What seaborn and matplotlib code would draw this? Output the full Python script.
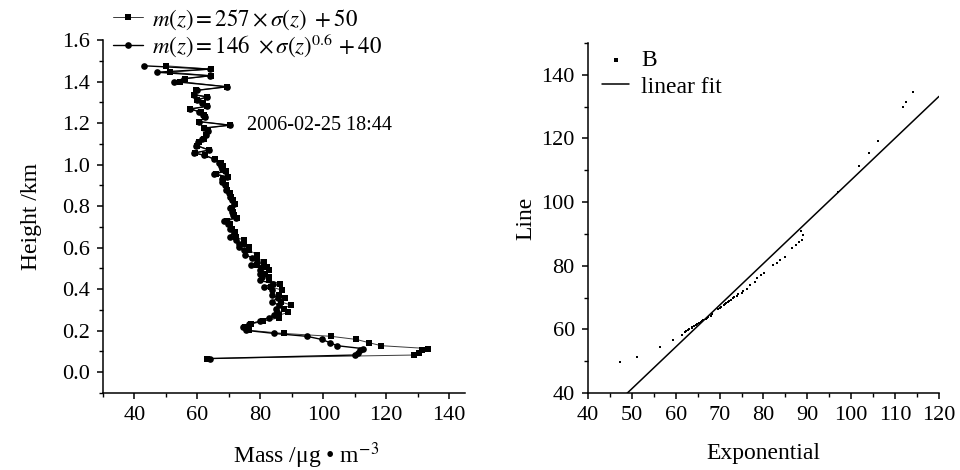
import numpy as np
import pandas as pd
import matplotlib
matplotlib.use("Agg")
import matplotlib.pyplot as plt
from matplotlib.ticker import MultipleLocator, FormatStrFormatter
import seaborn as sns

# ---------------- data ----------------
heights = [0.066, 0.083, 0.095, 0.105, 0.114, 0.128, 0.142, 0.158, 0.173, 0.187,
           0.202, 0.218, 0.232, 0.246, 0.262, 0.275, 0.288, 0.307, 0.324, 0.339,
           0.358, 0.374, 0.395, 0.411, 0.427, 0.443, 0.458, 0.471, 0.492, 0.507,
           0.516, 0.532, 0.551, 0.566, 0.588, 0.604, 0.620, 0.636, 0.652, 0.676,
           0.692, 0.712, 0.728, 0.744, 0.758, 0.773, 0.789, 0.808, 0.829, 0.845,
           0.861, 0.877, 0.901, 0.914, 0.933, 0.941, 0.955, 0.969, 0.981, 0.993,
           1.006, 1.026, 1.045, 1.056, 1.070, 1.092, 1.107, 1.125, 1.142, 1.160,
           1.176, 1.190, 1.207, 1.228, 1.239, 1.254, 1.268, 1.281, 1.296, 1.311,
           1.326, 1.337, 1.358, 1.375, 1.400, 1.414, 1.428, 1.445, 1.460, 1.476]

mass_linear = [63.0, 128.9, 130.3, 131.5, 133.3, 118.4, 114.6, 110.5, 102.5, 87.4,
               76.3, 75.0, 77.0, 80.9, 85.8, 86.0, 88.7, 87.4, 89.7, 86.5,
               87.9, 86.0, 86.9, 83.5, 86.3, 82.6, 82.6, 81.5, 82.6, 82.1,
               79.0, 81.0, 79.0, 79.0, 76.3, 76.3, 74.7, 74.7, 72.1, 72.0,
               71.0, 70.5, 69.5, 72.5, 71.6, 71.3, 71.0, 72.0, 71.3, 70.8,
               70.2, 69.5, 69.0, 68.2, 68.0, 69.6, 65.8, 69.0, 68.0, 68.0,
               67.6, 65.7, 62.3, 59.1, 63.6, 59.9, 60.6, 62.0, 62.6, 63.5,
               62.2, 70.5, 60.6, 62.5, 62.0, 61.0, 57.8, 63.1, 61.8, 60.0,
               63.2, 59.0, 59.7, 69.4, 54.5, 56.2, 64.4, 51.4, 64.3, 50.0]

mass_exponential = [64.0, 110.2, 111.0, 111.6, 112.5, 104.3, 102.2, 99.5, 94.8, 84.4,
                    75.3, 74.5, 76.5, 79.8, 82.6, 84.2, 85.3, 85.1, 85.8, 83.7,
                    85.5, 83.7, 83.7, 81.3, 84.0, 79.8, 80.5, 80.0, 80.0, 80.5,
                    77.1, 79.0, 77.4, 75.2, 74.7, 73.3, 73.3, 72.1, 70.2, 71.5,
                    70.5, 69.7, 68.3, 72.1, 71.2, 71.0, 70.5, 71.5, 71.0, 70.5,
                    69.9, 69.1, 68.7, 67.8, 67.8, 69.4, 65.2, 68.9, 67.8, 67.5,
                    66.9, 65.4, 62.2, 58.9, 63.8, 59.6, 60.3, 61.5, 62.8, 63.5,
                    62.1, 70.3, 60.6, 62.3, 61.8, 60.6, 57.8, 63.1, 61.5, 59.8,
                    63.1, 58.8, 60.0, 69.4, 52.5, 55.7, 64.0, 47.0, 64.0, 43.0]

b_exponential = [47.3, 51.1, 56.4, 59.3, 61.5,
                 62.1, 62.4, 62.9, 63.1, 63.6, 63.8, 64.2, 64.6, 64.9, 65.2, 65.7, 66.0,
                 66.3, 66.8, 67.1, 67.4, 68.0, 68.3,
                 69.6, 70.0, 70.3, 70.9, 71.2, 71.4, 71.9, 72.2, 72.7, 73.0, 73.3, 74.0,
                 74.3, 75.0, 75.3, 76.3,
                 77.0, 78.0, 78.6, 79.4, 80.1,
                 82.2, 83.0, 83.7, 84.9, 86.4, 87.5, 88.0, 88.5, 88.7, 89.0,
                 96.9, 101.7, 104.0, 106.0, 111.7, 112.4, 114.0]
b_line = [49.8, 51.4, 54.5, 56.6, 58.2,
          59.2, 59.5, 59.8, 60.1, 60.4, 60.7, 61.1, 61.4, 61.7, 62.0, 62.3, 62.7,
          62.9, 63.3, 63.6, 64.0, 64.3, 64.7,
          66.4, 66.8, 67.1, 67.5, 67.9, 68.2, 68.6, 69.0, 69.3, 69.7, 70.1, 70.5,
          71.0, 71.5, 72.0, 72.8,
          74.0, 75.0, 76.0, 77.0, 77.8,
          80.1, 80.9, 81.7, 82.7, 85.4, 86.4, 87.5, 90.8, 88.0, 89.5,
          103.1, 111.3, 115.5, 119.3, 129.8, 131.5, 134.5]

label_linear = r"$m(z) = 257\times\sigma(z)\ +50$"
label_exponential = r"$m(z) = 146\ \times\sigma(z)^{0.6}\,+40$"
annotation_text = "2006-02-25 18:44"

# ---------------- style ----------------
sns.set_theme(style="ticks")
plt.rcParams["font.family"] = ["Liberation Serif", "DejaVu Serif"]
plt.rcParams["mathtext.fontset"] = "stix"
plt.rcParams.update({
    "axes.linewidth": 1.1,
    "xtick.major.width": 1.1, "ytick.major.width": 1.1,
    "xtick.minor.width": 1.0, "ytick.minor.width": 1.0,
    "xtick.major.size": 4.5, "ytick.major.size": 4.5,
    "xtick.minor.size": 2.8, "ytick.minor.size": 2.8,
    "xtick.direction": "out", "ytick.direction": "out",
    "axes.edgecolor": "black",
    "xtick.color": "black", "ytick.color": "black",
    "text.color": "black", "axes.labelcolor": "black",
})
TICK_FS = 16
LABEL_FS = 17
LEG_FS = 17

fig = plt.figure(figsize=(9.6, 4.7), dpi=100)
ax1 = fig.add_axes([0.1073, 0.1638, 0.377, 0.751])
ax2 = fig.add_axes([0.6125, 0.1638, 0.3656, 0.745])

# ---------------- left panel ----------------
prof = pd.DataFrame({"h": heights, "lin": mass_linear, "exp": mass_exponential})
sns.lineplot(data=prof, x="lin", y="h", sort=False, estimator=None, ax=ax1,
             color="#3a3a3a", linewidth=0.7, marker="s", markersize=3.8,
             markeredgewidth=0, markerfacecolor="black", label=label_linear)
sns.lineplot(data=prof, x="exp", y="h", sort=False, estimator=None, ax=ax1,
             color="black", linewidth=1.0, marker="o", markersize=4.8,
             markeredgewidth=0, markerfacecolor="black", label=label_exponential)

ax1.set_xlim(30, 145)
ax1.set_ylim(-0.1, 1.6)
ax1.xaxis.set_minor_locator(MultipleLocator(10))
ax1.yaxis.set_minor_locator(MultipleLocator(0.1))
ax1.set_xticks([40, 60, 80, 100, 120, 140])
ax1.set_yticks([0.0, 0.2, 0.4, 0.6, 0.8, 1.0, 1.2, 1.4, 1.6])
ax1.yaxis.set_major_formatter(FormatStrFormatter("%.1f"))
ax1.tick_params(labelsize=TICK_FS, pad=5)
sns.despine(ax=ax1)
ax1.set_xlabel("Mass /\u03bcg \u2022 m$^{-3}$", fontsize=LABEL_FS)
ax1.xaxis.set_label_coords(0.56, -0.135)
ax1.set_ylabel("Height /km", fontsize=LABEL_FS, labelpad=14)
ax1.text(75.9, 1.19, annotation_text, fontsize=14.5, va="center", ha="left")
ax1.legend(loc="upper left", bbox_to_anchor=(0.118, 0.985), bbox_transform=fig.transFigure,
           frameon=False, fontsize=16.5, handlelength=1.3, handletextpad=0.4,
           labelspacing=0.0, borderpad=0.0, borderaxespad=0)

# ---------------- right panel ----------------
ax2.set_xlim(40, 120)
ax2.set_ylim(40, 150)
scat = pd.DataFrame({"Exponential": b_exponential, "Line": b_line})
sns.scatterplot(data=scat, x="Exponential", y="Line", ax=ax2, color="black",
                s=4, linewidth=0, marker="s", label="B")
sns.regplot(data=scat, x="Exponential", y="Line", ax=ax2, scatter=False, ci=None,
            truncate=False, color="black", line_kws={"linewidth": 1.1},
            label="linear fit")
ax2.set_xlim(40, 120)
ax2.set_ylim(40, 150)
ax2.xaxis.set_major_locator(MultipleLocator(10))
ax2.xaxis.set_minor_locator(MultipleLocator(5))
ax2.yaxis.set_minor_locator(MultipleLocator(10))
ax2.set_yticks([40, 60, 80, 100, 120, 140])
ax2.tick_params(labelsize=TICK_FS, pad=5)
sns.despine(ax=ax2)
ax2.set_xlabel("Exponential", fontsize=LABEL_FS, labelpad=13)
ax2.set_ylabel("Line", fontsize=LABEL_FS, labelpad=4)
ax2.legend(loc="upper left", bbox_to_anchor=(0.04, 0.98), frameon=False,
           fontsize=LEG_FS, handlelength=1.15, handletextpad=0.5,
           labelspacing=0.2, markerscale=1.4, borderpad=0.0, borderaxespad=0)

fig.savefig("out.png", dpi=100)
